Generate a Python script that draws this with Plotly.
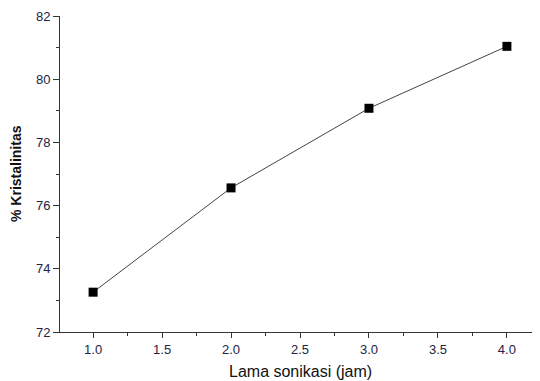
import plotly.graph_objects as go

lama_sonikasi = [1.0, 2.0, 3.0, 4.0]
kristalinitas = [73.26, 76.56, 79.08, 81.04]
x_ticks = [1.0, 1.5, 2.0, 2.5, 3.0, 3.5, 4.0]
x_tick_labels = ["1.0", "1.5", "2.0", "2.5", "3.0", "3.5", "4.0"]
y_ticks = [72, 74, 76, 78, 80, 82]
y_tick_labels = ["72", "74", "76", "78", "80", "82"]
x_title = "Lama sonikasi (jam)"
y_title = "% Kristalinitas"

fig = go.Figure()
fig.add_trace(go.Scatter(
    x=lama_sonikasi, y=kristalinitas, mode="lines+markers",
    line=dict(color="#444444", width=1),
    marker=dict(symbol="square", size=9, color="black"),
    showlegend=False,
))

font = dict(family="Liberation Sans, Arial, sans-serif", color="#222244")
fig.update_layout(
    width=532, height=373,
    margin=dict(l=52, r=0, t=8, b=49, autoexpand=False),
    paper_bgcolor="white", plot_bgcolor="white",
    font=font,
)
fig.update_xaxes(
    range=[0.76, 4.24], tickvals=x_ticks, ticktext=x_tick_labels,
    showgrid=False, zeroline=False, showline=True, linecolor="#333333", linewidth=1,
    ticks="outside", ticklen=5, tickcolor="#333333",
    minor=dict(ticks="outside", ticklen=3, dtick=0.25, tick0=0.75, tickcolor="#333333"),
    tickfont=dict(size=13), automargin=False,
)
fig.update_yaxes(
    range=[72, 82], tickvals=y_ticks, ticktext=y_tick_labels,
    showgrid=False, zeroline=False, showline=True, linecolor="#333333", linewidth=1,
    ticks="outside", ticklen=6, tickcolor="#333333",
    minor=dict(ticks="outside", ticklen=3, dtick=1, tick0=73, tickcolor="#333333"),
    tickfont=dict(size=13), automargin=False,
)
fig.add_annotation(
    text=x_title, xref="paper", yref="paper", x=0.5, y=0,
    xanchor="center", yanchor="middle", yshift=-39, showarrow=False,
    font=dict(size=16, color="#111111"),
)
fig.add_annotation(
    text="<b>" + y_title + "</b>", xref="paper", yref="paper", x=0, y=0.5,
    xanchor="center", yanchor="middle", xshift=-44, textangle=-90, showarrow=False,
    font=dict(size=14, color="#111111"),
)
fig.write_html("out.html")
